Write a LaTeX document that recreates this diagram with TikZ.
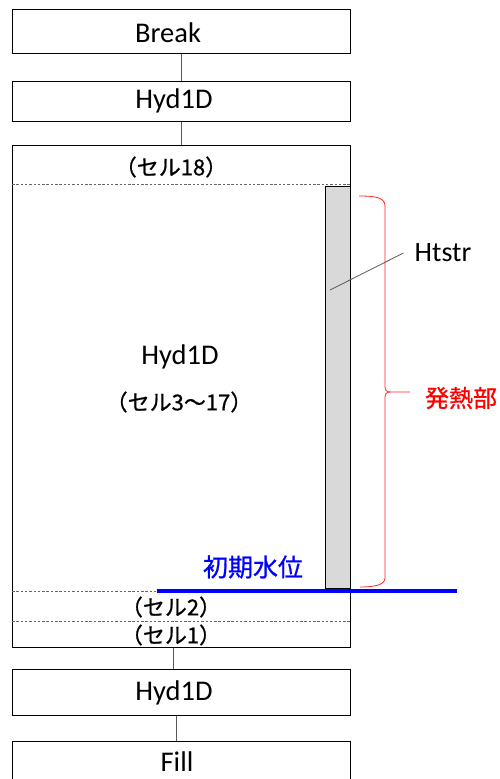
\documentclass[tikz,border=0pt]{standalone}
\usepackage{fontspec}
\setmainfont{Carlito}
\newfontfamily\jpfont[FakeBold=0.8]{Noto Sans CJK JP}
\begin{document}
\begin{tikzpicture}[x=1pt,y=-1pt,
  box/.style={draw=black, line width=1.3pt, minimum width=338pt, inner sep=0pt, anchor=north west},
  lat/.style={font=\fontsize{28.5}{32}\selectfont, inner sep=0pt},
  cell/.style={font=\jpfont\fontsize{22}{26}\selectfont, inner sep=0pt},
  link/.style={draw=black!65, line width=0.8pt},
  dashline/.style={draw=black!60, line width=0.6pt, dash pattern=on 2.5pt off 1.8pt},
  heater/.style={draw=black, line width=1.3pt, fill=black!15, minimum width=25pt, minimum height=402pt, inner sep=0pt, anchor=north west},
  brace/.style={draw=red!85, line width=0.8pt},
  water/.style={draw=blue, line width=4pt}]
\useasboundingbox (0,0) rectangle (500,779);
\clip (0,0) rectangle (500,779);
% boxes
\node[box, minimum height=44pt] (brk) at (12,9) {};
\node[box, minimum height=40pt] (hyd1) at (12,81) {};
\node[box, minimum height=502pt] (big) at (12,145) {};
\node[box, minimum height=46pt] (hyd2) at (12,669) {};
\node[box, minimum height=50pt] (fill) at (12,741) {};
% connectors
\draw[link] (brk.south) -- (hyd1.north);
\draw[link] (hyd1.south) -- (big.north);
\draw[link] ([xshift=-8pt]big.south) -- ([xshift=-8pt]hyd2.north);
\draw[link] ([xshift=-5pt]hyd2.south) -- ([xshift=-5pt]fill.north);
% dashed cell borders
\coordinate (d18) at (0,184);
\coordinate (d2) at (0,591);
\coordinate (d1) at (0,621);
\draw[dashline] (big.west |- d18) -- (big.east |- d18);
\draw[dashline] (big.west |- d2) -- (big.east |- d2);
\draw[dashline] (big.west |- d1) -- (big.east |- d1);
% texts in boxes
\node[lat] (tbrk) at (168,33) {Break};
\node[lat] (thyd1) at (174,101) {Hyd1D};
\node[cell] (c18) at (171,167) {（セル18）};
\node[lat] (thydm) at (180,357) {Hyd1D};
\node[cell] (c317) at (179,402) {（セル3～17）};
\node[cell] (c2) at (171,607) {（セル2）};
\node[cell] (c1) at (171,635) {（セル1）};
\node[lat] (thyd2) at (174,693) {Hyd1D};
\node[lat] (tfill) at (177,762) {Fill};
% heater structure
\node[heater] (ht) at (325,186) {};
\coordinate (hl) at (330,290);
\node[lat, font=\fontsize{28}{32}\selectfont, inner xsep=11pt] (htlabel) at (443,253) {Htstr};
\draw[draw=black!65, line width=0.8pt] (hl) -- (htlabel.west);
% brace
\draw[brace] (359,196) .. controls (374,196) and (385,197) .. (385,206)
  -- (385,386) .. controls (385,390) and (386,392) .. (391,392) -- (410,392)
  (391,392) .. controls (386,392) and (385,394) .. (385,398)
  -- (385,578) .. controls (385,585) and (374,587) .. (360,587);
\node[font=\jpfont\fontsize{24}{28}\selectfont, text=red, inner sep=0pt] (heat) at (461,398) {発熱部};
% water level
\coordinate (wl) at (157,591);
\coordinate (wr) at (457,591);
\draw[water] (wl) -- (wr);
\node[font=\jpfont\fontsize{25}{28}\selectfont, text=blue, inner sep=0pt] (wlabel) at (253,567) {初期水位};
\end{tikzpicture}
\end{document}
